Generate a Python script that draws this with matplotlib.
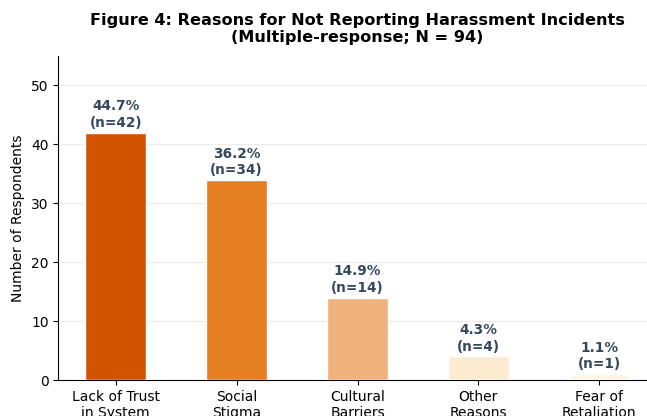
import numpy as np
import matplotlib
matplotlib.use("Agg")
import matplotlib.pyplot as plt

# survey results: reasons for not reporting (multiple response)
reasons = ["Lack of Trust\nin System", "Social\nStigma", "Cultural\nBarriers",
           "Other\nReasons", "Fear of\nRetaliation"]
counts = [42, 34, 14, 4, 1]
total_n = 94
bar_colors = ["#d35400", "#e67e22", "#f0b27a", "#fdebd0", "#fef5e7"]
yticks = [0, 10, 20, 30, 40, 50]

fig = plt.figure(figsize=(6.47, 4.16), dpi=100)
ax = fig.add_axes([0.0901, 0.0865, 0.925, 0.779])

x = np.arange(len(reasons))
bars = ax.bar(x, counts, width=0.5, color=bar_colors, edgecolor="white",
              linewidth=1, zorder=3)

for b, c in zip(bars, counts):
    pct = c / total_n * 100
    ax.text(b.get_x() + b.get_width() / 2, c + 0.5,
            f"{pct:.1f}%\n(n={c})", ha="center", va="bottom",
            fontsize=9.8, fontweight="bold", color="#34495e", zorder=4)

ax.set_ylim(0, 55)
ax.set_yticks(yticks)
ax.set_xticks(x)
ax.set_xticklabels(reasons, fontsize=10)
ax.tick_params(axis="y", labelsize=10)
ax.set_ylabel("Number of Respondents", fontsize=10)
ax.set_title("Figure 4: Reasons for Not Reporting Harassment Incidents\n"
             "(Multiple-response; N = 94)", fontsize=11.6, fontweight="bold", pad=10)

ax.yaxis.grid(True, color="#ebebeb", linewidth=0.8, zorder=0)
ax.set_axisbelow(True)
ax.spines["top"].set_visible(False)
ax.spines["right"].set_visible(False)

fig.savefig("out.png", dpi=100)
